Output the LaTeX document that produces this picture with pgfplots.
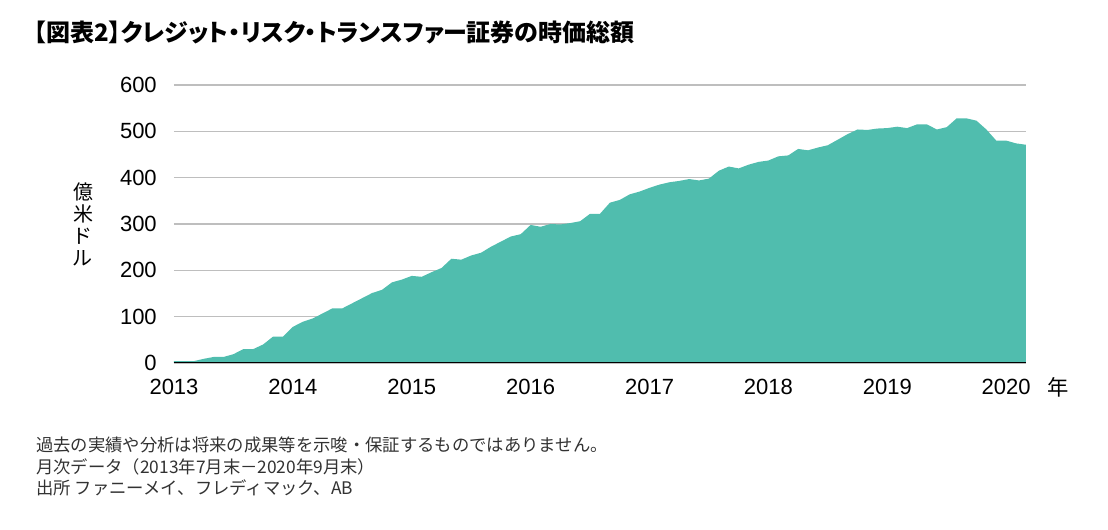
\documentclass[border=0pt]{standalone}
\usepackage{pgfplots}
\pgfplotsset{compat=1.18}
\usepackage{fontspec}
\setmainfont{Liberation Sans}
\newfontfamily\jp{Noto Sans CJK JP}[RawFeature=+palt]
\newfontfamily\jpm{Noto Sans CJK JP}
\definecolor{areateal}{RGB}{80,189,174}
\definecolor{gridgray}{RGB}{190,190,190}
\definecolor{notegray}{RGB}{50,50,50}
\begin{document}
\begin{tikzpicture}
\useasboundingbox (0,0) rectangle (831pt,397.5pt);
\node[anchor=west, inner sep=0pt, font={\jp\bfseries\fontsize{18pt}{20pt}\selectfont}] at (25.5pt,373pt) {【図表2】クレジット・リスク・トランスファー証券の時価総額};
\begin{axis}[
  at={(130.5pt,125.25pt)}, anchor=south west,
  scale only axis, width=639pt, height=208.5pt,
  xmin=0, xmax=86, ymin=0, ymax=600,
  enlargelimits=false,
  axis line style={draw=none},
  major tick length=0pt,
  xtick={0,12,24,36,48,60,72,84},
  xticklabels={2013,2014,2015,2016,2017,2018,2019,2020},
  ytick={0,100,200,300,400,500,600},
  ymajorgrids,
  major grid style={draw=gridgray, line width=1.1pt},
  tick label style={font=\fontsize{16.5pt}{19pt}\selectfont, inner sep=0pt},
  xticklabel style={anchor=north, yshift=-12pt},
  yticklabel style={anchor=east, xshift=-12.75pt},
  /pgf/number format/assume math mode=true,
]
\addplot[fill=areateal, draw=none] coordinates {
(0,4)(1,4)(2,4)(3,9)(4,13)(5,13)(6,19)(7,30)(8,30)(9,40)
(10,57)(11,57)(12,78)(13,89)(14,96)(15,107)(16,118)(17,118)(18,129)(19,140)
(20,151)(21,158)(22,174)(23,180)(24,188)(25,186)(26,196)(27,205)(28,225)(29,223)
(30,232)(31,238)(32,251)(33,262)(34,273)(35,278)(36,298)(37,294)(38,300)(39,299)
(40,302)(41,306)(42,322)(43,322)(44,346)(45,352)(46,364)(47,370)(48,378)(49,385)
(50,390)(51,393)(52,397)(53,394)(54,398)(55,415)(56,424)(57,420)(58,428)(59,434)
(60,437)(61,446)(62,448)(63,462)(64,459)(65,465)(66,470)(67,482)(68,494)(69,504)
(70,503)(71,506)(72,507)(73,510)(74,507)(75,515)(76,515)(77,504)(78,509)(79,528)
(80,528)(81,523)(82,504)(83,480)(84,480)(85,474)(86,471)
} \closedcycle;
\draw[black, line width=2.2pt] (rel axis cs:0,0) -- (rel axis cs:1,0);
\end{axis}
\node[inner sep=0pt, align=center, font={\jp\fontsize{15pt}{16.5pt}\selectfont}] at (62.25pt,229.5pt) {億\\米\\ド\\ル};
\node[inner sep=0pt, font={\jp\fontsize{16pt}{18pt}\selectfont}] at (793.5pt,107.25pt) {年};
\node[anchor=base west, inner sep=0pt, text=notegray, font={\jpm\fontsize{13pt}{15pt}\selectfont}] at (27pt,58.5pt) {過去の実績や分析は将来の成果等を示唆・保証するものではありません。};
\node[anchor=base west, inner sep=0pt, text=notegray, font={\jpm\fontsize{13pt}{15pt}\selectfont}] at (27pt,42.5pt) {月次データ（2013年7月末－2020年9月末）};
\node[anchor=base west, inner sep=0pt, text=notegray, font={\jpm\fontsize{13pt}{15pt}\selectfont}] at (27pt,26.25pt) {出所 ファニーメイ、フレディマック、AB};
\end{tikzpicture}
\end{document}
